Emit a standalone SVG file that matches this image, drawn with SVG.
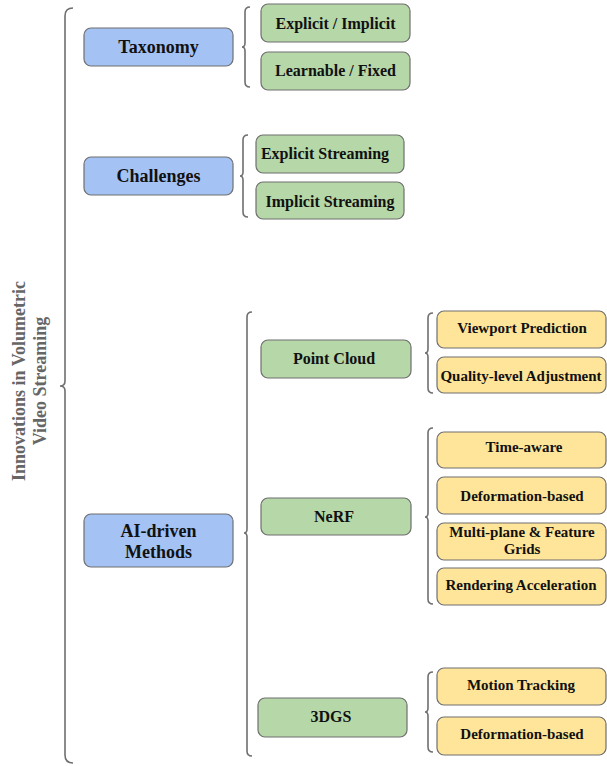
<svg xmlns="http://www.w3.org/2000/svg" width="607" height="766" viewBox="0 0 607 766">
<style>
rect.n{stroke:#6f6f6f;stroke-width:1.2}
.b{fill:#a4c2f4}.g{fill:#b6d7a8}.y{fill:#ffe599}
text{font-family:"Liberation Serif","Times New Roman",serif;font-weight:bold;fill:#111;text-anchor:middle}
.t1{font-size:18px}.t2{font-size:16px}.t3{font-size:15px}
.br{fill:none;stroke:#6f6f6f;stroke-width:1.6}
</style>
<rect width="607" height="766" fill="#fff"/>
<g id="title">
<text transform="translate(25,381) rotate(-90)" style="font-size:18px;fill:#666">Innovations in Volumetric</text>
<text transform="translate(46,381) rotate(-90)" style="font-size:18px;fill:#666">Video Streaming</text>
</g>
<g id="connectors">
<path class="br" d="M73,8 Q65,8 65,16 L65,381 Q65,386 60,386 Q65,386 65,391 L65,755 Q65,763 73,763"/>
<path class="br" d="M250,7 Q245,7 245,12 L245,43 Q245,47 242,47 Q245,47 245,51 L245,82 Q245,87 250,87"/>
<path class="br" d="M248,135 Q243,135 243,140 L243,172 Q243,176 240,176 Q243,176 243,180 L243,212 Q243,217 248,217"/>
<path class="br" d="M252,312 Q247,312 247,317 L247,529 Q247,533 244,533 Q247,533 247,537 L247,751 Q247,756 252,756"/>
<path class="br" d="M433,313 Q428,313 428,318 L428,349 Q428,353 425,353 Q428,353 428,357 L428,388 Q428,393 433,393"/>
<path class="br" d="M433,428 Q428,428 428,433 L428,513 Q428,517 425,517 Q428,517 428,521 L428,599 Q428,604 433,604"/>
<path class="br" d="M433,672 Q428,672 428,677 L428,708 Q428,712 425,712 Q428,712 428,716 L428,747 Q428,752 433,752"/>
</g>
<g id="taxonomy"><rect class="n b" x="84" y="28" width="149" height="38" rx="7"/><text class="t1" x="158.5" y="53">Taxonomy</text></g>
<g id="challenges"><rect class="n b" x="84" y="157" width="149" height="38" rx="7"/><text class="t1" x="158.5" y="182">Challenges</text></g>
<g id="ai-driven"><rect class="n b" x="84" y="514" width="149" height="53" rx="7"/><text class="t1" x="158.5" y="537">AI-driven</text><text class="t1" x="158.5" y="558">Methods</text></g>
<g id="explicit-implicit"><rect class="n g" x="261" y="4" width="149" height="38" rx="7"/><text class="t2" x="335.5" y="29">Explicit / Implicit</text></g>
<g id="learnable-fixed"><rect class="n g" x="261" y="52" width="149" height="38" rx="7"/><text class="t2" x="335.5" y="76">Learnable / Fixed</text></g>
<g id="explicit-streaming"><rect class="n g" x="256" y="135" width="148" height="38" rx="7"/><text class="t2" x="325" y="159">Explicit Streaming</text></g>
<g id="implicit-streaming"><rect class="n g" x="256" y="182" width="148" height="37" rx="7"/><text class="t2" x="330" y="207">Implicit Streaming</text></g>
<g id="point-cloud"><rect class="n g" x="261" y="340" width="150" height="38" rx="7"/><text class="t2" x="334" y="364">Point Cloud</text></g>
<g id="nerf"><rect class="n g" x="261" y="498" width="150" height="37" rx="7"/><text class="t2" x="334" y="522">NeRF</text></g>
<g id="3dgs"><rect class="n g" x="258" y="698" width="149" height="39" rx="7"/><text class="t2" x="331" y="722">3DGS</text></g>
<g id="viewport-prediction"><rect class="n y" x="437" y="311" width="169" height="37" rx="7"/><text class="t3" x="522" y="333">Viewport Prediction</text></g>
<g id="quality-level"><rect class="n y" x="437" y="357" width="169" height="36" rx="7"/><text class="t3" x="521" y="381">Quality-level Adjustment</text></g>
<g id="time-aware"><rect class="n y" x="437" y="432" width="169" height="36" rx="7"/><text class="t3" x="524" y="452">Time-aware</text></g>
<g id="deformation-nerf"><rect class="n y" x="437" y="477" width="169" height="37" rx="7"/><text class="t3" x="522" y="501">Deformation-based</text></g>
<g id="multi-plane"><rect class="n y" x="437" y="523" width="169" height="37" rx="7"/><text class="t3" x="522" y="537">Multi-plane &amp; Feature</text><text class="t3" x="522" y="554">Grids</text></g>
<g id="rendering"><rect class="n y" x="437" y="568" width="169" height="37" rx="7"/><text class="t3" x="521" y="590">Rendering Acceleration</text></g>
<g id="motion-tracking"><rect class="n y" x="437" y="668" width="169" height="37" rx="7"/><text class="t3" x="521" y="690">Motion Tracking</text></g>
<g id="deformation-3dgs"><rect class="n y" x="437" y="717" width="169" height="38" rx="7"/><text class="t3" x="522" y="739">Deformation-based</text></g>
</svg>
